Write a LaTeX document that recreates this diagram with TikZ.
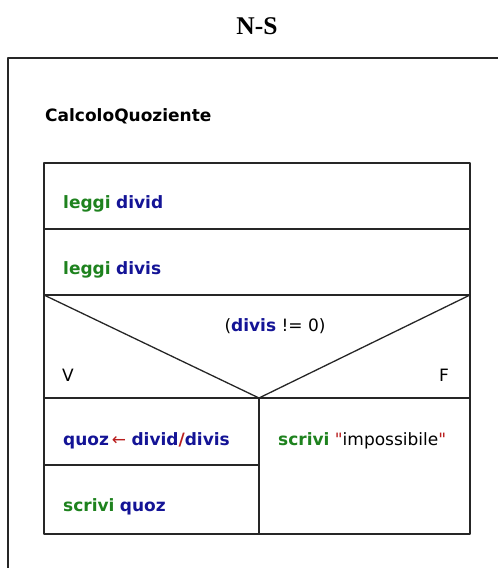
\documentclass[tikz,border=0pt]{standalone}
\usepackage{fontspec}
\setmainfont{DejaVu Sans}
\newfontfamily\titlefont{Liberation Serif}
\definecolor{kwgreen}{RGB}{30,130,30}
\definecolor{varblue}{RGB}{20,20,150}
\definecolor{opred}{RGB}{185,30,30}
\newcommand{\nskw}[1]{\textcolor{kwgreen}{\textbf{#1}}}
\newcommand{\nsvar}[1]{\textcolor{varblue}{\textbf{#1}}}

\begin{document}
\begin{tikzpicture}[x=1pt,y=-1pt, line join=round, font=\fontsize{17}{19}\selectfont,
	txt/.style={anchor=base west, inner sep=0pt},
	box/.style={line width=1.3pt, black!85}]
	\def\xl{44} \def\xr{470} \def\xm{259} % colonne
	\def\ya{163} \def\yb{229} \def\yc{295} \def\yd{398} \def\ye{465} \def\yf{534} % righe
	\useasboundingbox (0,0) rectangle (498,568);
	\node[font=\titlefont\bfseries\fontsize{25.5}{27}\selectfont, anchor=base, inner sep=0pt] (title) at (257,34) {N-S};
	\draw[line width=1.6pt, black!85] (8,568) -- (8,58) -- (498,58);
	\node[txt] (nome) at (45,121) {\textbf{CalcoloQuoziente}};
	% blocchi
	\draw[box] (\xl,\ya) rectangle (\xr,\yf);
	\draw[box] (\xl,\yb) -- (\xr,\yb);
	\draw[box] (\xl,\yc) -- (\xr,\yc);
	\draw[box] (\xl,\yd) -- (\xr,\yd);
	\draw[box] (\xl,\yc) -- (\xm,\yd) -- (\xr,\yc);
	\draw[box] (\xm,\yd) -- (\xm,\yf);
	\draw[box] (\xl,\ye) -- (\xm,\ye);
	% testi
	\node[txt] (leggi1) at (63,208) {\nskw{leggi} \nsvar{divid}};
	\node[txt] (leggi2) at (63,274) {\nskw{leggi} \nsvar{divis}};
	\node[anchor=base, inner sep=0pt] (cond) at (275,331) {(\nsvar{divis} != 0)};
	\node[txt] (vero) at (62,381) {V};
	\node[anchor=base east, inner sep=0pt] (falso) at (449,381) {F};
	\node[txt] (assegna) at (63,445) {\nsvar{quoz}\,\textcolor{opred}{←} \nsvar{divid}\textcolor{opred}{\textbf{/}}\nsvar{divis}};
	\node[txt] (scrivi1) at (63,511) {\nskw{scrivi} \nsvar{quoz}};
	\node[txt] (scrivi2) at (278,445) {\nskw{scrivi} \textcolor{opred}{\textquotedbl}impossibile\textcolor{opred}{\textquotedbl}};
\end{tikzpicture}
\end{document}
